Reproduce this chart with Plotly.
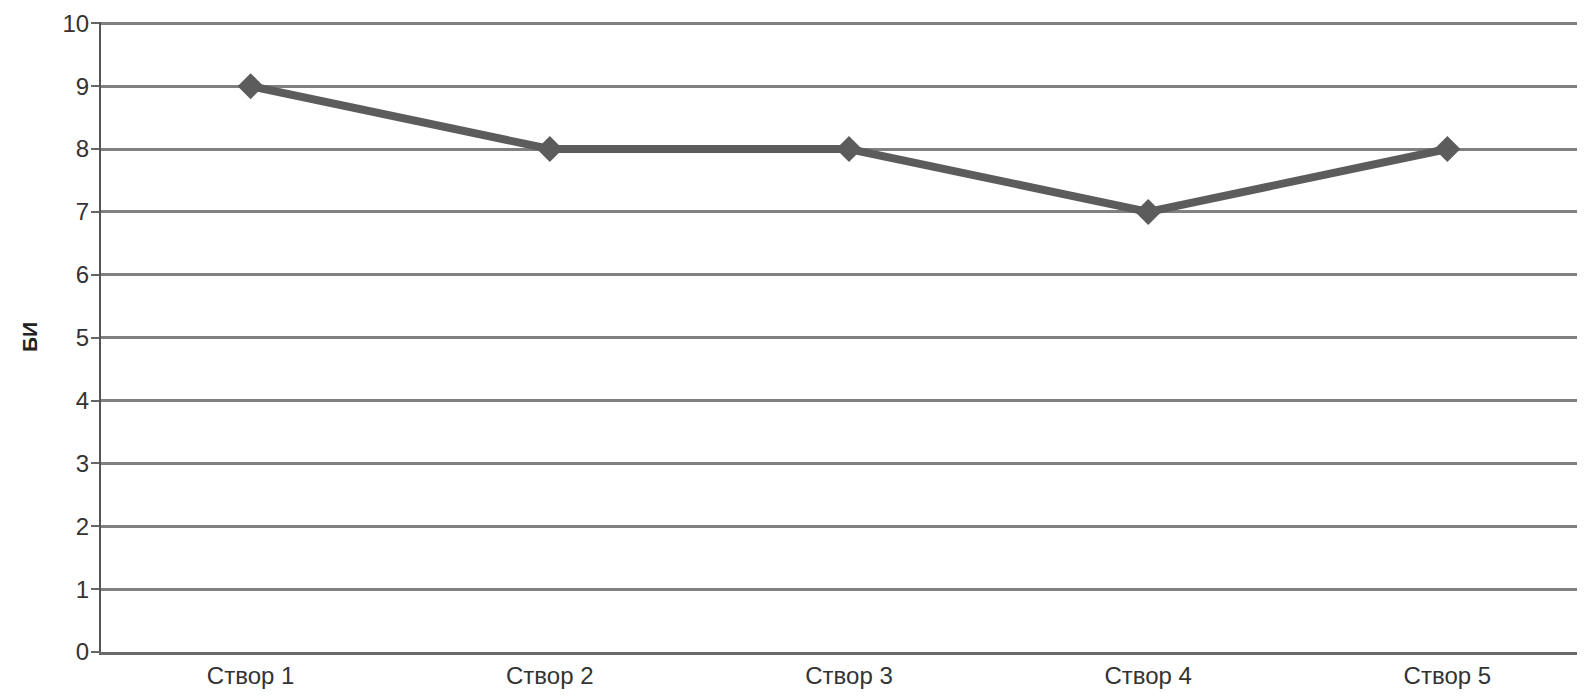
import plotly.graph_objects as go

categories = ["Створ 1", "Створ 2", "Створ 3", "Створ 4", "Створ 5"]
values = [9, 8, 8, 7, 8]
y_ticks = list(range(0, 11))

fig = go.Figure()
fig.add_trace(go.Scatter(
    x=list(range(len(categories))), y=values, mode="lines+markers",
    line=dict(color="#5c5c5c", width=8),
    marker=dict(symbol="diamond", size=20, color="#5c5c5c"),
    showlegend=False, cliponaxis=False,
))

fig.update_layout(
    width=1585, height=698,
    margin=dict(l=93, r=8, t=14, b=54),
    plot_bgcolor="white", paper_bgcolor="white",
    font=dict(family="Liberation Sans, Arial", size=24, color="#333333"),
    xaxis=dict(
        tickmode="array", tickvals=list(range(len(categories))), ticktext=categories,
        range=[-0.5, 4.46], showgrid=False, zeroline=False,
        showline=True, linecolor="#6a6a6a", linewidth=3,
        ticks="", tickfont=dict(size=24, color="#333333"), automargin=False,
    ),
    yaxis=dict(
        range=[0, 10.02], tickmode="array", tickvals=y_ticks,
        showgrid=True, gridcolor="#808080", gridwidth=2.5,
        zeroline=False, showline=True, linecolor="#555555", linewidth=2,
        ticks="outside", ticklen=8, tickcolor="#666666", tickwidth=2,
        ticklabelstandoff=-3,
        tickfont=dict(size=24, color="#333333"), automargin=False,
        title=dict(text="<b>БИ</b>", font=dict(size=21, color="#222222"), standoff=19),
    ),
)
fig.write_html("out.html")
